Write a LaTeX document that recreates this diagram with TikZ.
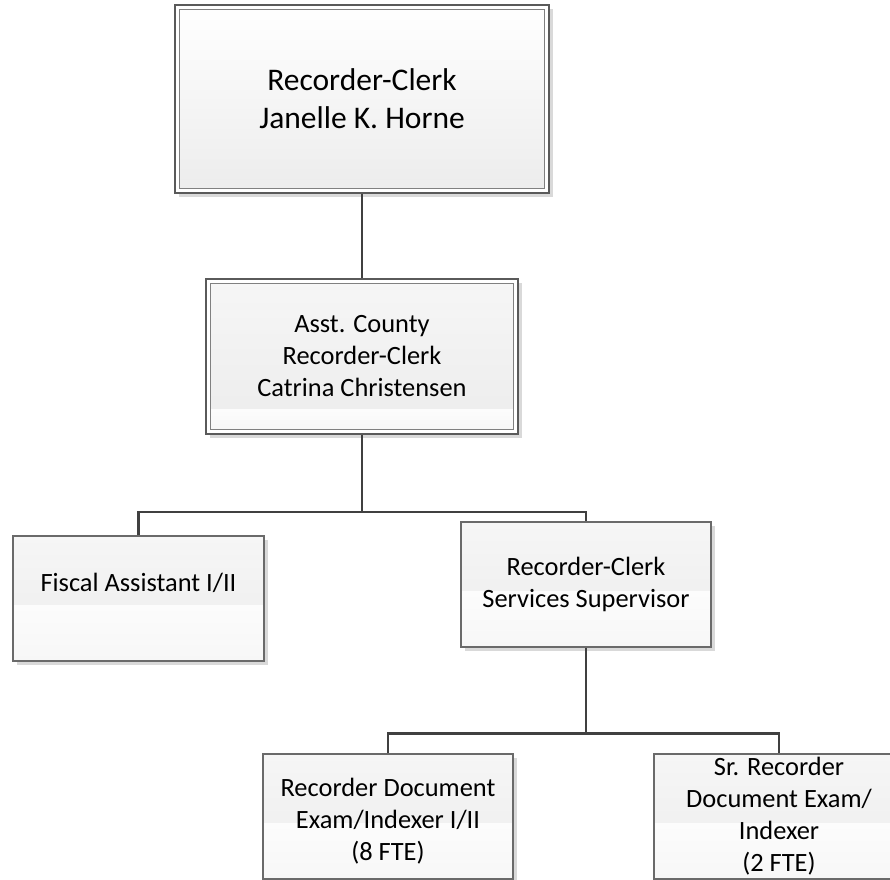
\documentclass[tikz,border=0pt]{standalone}
\usepackage{fontspec}
\setmainfont{Carlito}
\usetikzlibrary{calc,shadows}
\definecolor{boxline}{HTML}{6A6A6A}
\definecolor{outerline}{HTML}{5A5A5A}
\definecolor{innerline}{HTML}{808080}
\definecolor{connline}{HTML}{404040}
\definecolor{shadowc}{HTML}{D9D9D9}
\definecolor{gtop}{HTML}{F6F6F6}
\definecolor{gmid}{HTML}{ECECEC}
\definecolor{wtop}{HTML}{FCFCFC}
\definecolor{wbot}{HTML}{F7F7F7}
\tikzset{
  boxshadow/.style={general shadow={fill=shadowc, shadow xshift=4pt, shadow yshift=-4pt}},
  orgbox/.style={draw=boxline, line width=1.3pt, minimum width=250pt, minimum height=125pt,
    inner sep=0pt, align=center, font=\fontsize{26.4}{32}\selectfont, text=black, boxshadow,
    path picture={
      \shade[top color=gtop, bottom color=gmid]
        (path picture bounding box.north west) rectangle
        ($(path picture bounding box.north east)!0.555!(path picture bounding box.south east)$);
      \shade[top color=wtop, bottom color=wbot]
        ($(path picture bounding box.north west)!0.555!(path picture bounding box.south west)$) rectangle
        (path picture bounding box.south east);
    }},
  orgtext/.style={inner sep=0pt, align=center, font=\fontsize{26.4}{32}\selectfont, text=black},
  headbox/.style={draw=outerline, line width=1.3pt, fill=white, inner sep=0pt, align=center,
    text=black, boxshadow,
    path picture={
      \shade[top color=white, bottom color=gmid]
        ([shift={(4.5pt,-4.5pt)}]path picture bounding box.north west) rectangle
        ([shift={(-4.5pt,4.5pt)}]path picture bounding box.south east);
      \draw[innerline, line width=1.2pt]
        ([shift={(4.5pt,-4.5pt)}]path picture bounding box.north west) rectangle
        ([shift={(-4.5pt,4.5pt)}]path picture bounding box.south east);
    }},
  midbox/.style={draw=outerline, line width=1.3pt, fill=white, inner sep=0pt, align=center,
    text=black, boxshadow,
    path picture={
      \shade[top color=gtop, bottom color=gmid]
        ([shift={(4.5pt,-4.5pt)}]path picture bounding box.north west) rectangle
        ([shift={(-4.5pt,0pt)}]$(path picture bounding box.north east)!0.845!(path picture bounding box.south east)$);
      \shade[top color=wtop, bottom color=wbot]
        ([shift={(4.5pt,0pt)}]$(path picture bounding box.north west)!0.845!(path picture bounding box.south west)$) rectangle
        ([shift={(-4.5pt,4.5pt)}]path picture bounding box.south east);
      \draw[innerline, line width=1.2pt]
        ([shift={(4.5pt,-4.5pt)}]path picture bounding box.north west) rectangle
        ([shift={(-4.5pt,4.5pt)}]path picture bounding box.south east);
    }},
  conn/.style={draw=connline, line width=2.6pt}
}
\begin{document}
\begin{tikzpicture}[x=1pt,y=1pt]
\useasboundingbox (0,0) rectangle (890,-879);
\clip (0,0) rectangle (890,-879);
\fill[white] (0,0) rectangle (890,-879);

\node[headbox, minimum width=374pt, minimum height=188pt,
      font=\fontsize{31.5}{38}\selectfont] (top) at (362,-99) {Recorder-Clerk\\Janelle K. Horne};
\node[midbox, minimum width=312pt, minimum height=155pt,
      font=\fontsize{26.4}{32}\selectfont] (mid) at (362,-356.5) {Asst. County\\Recorder-Clerk\\Catrina Christensen};

\node[orgbox, minimum width=251pt] (fiscal) at (138.5,-598.5) {};
\node[orgtext] (fiscaltext) at ([yshift=15.5pt]fiscal.center) {Fiscal Assistant I/II};
\node[orgbox] (sup) at (586,-584.5) {Recorder-Clerk\\Services Supervisor};

\node[orgbox] (bl) at (388,-816.5) {};
\node[orgtext] (bltext) at ([yshift=-4.5pt]bl.center) {Recorder Document\\Exam/Indexer I/II\\(8 FTE)};
\node[orgbox] (br) at (779,-816.5) {Sr. Recorder\\Document Exam/\\Indexer\\(2 FTE)};

\coordinate (j1) at (362,-512);
\coordinate (j2) at (586,-733.5);

\draw[conn] (top.south) -- (mid.north);
\draw[conn] (mid.south) -- (j1);
\draw[conn] (fiscal.north) |- (j1) -| (sup.north);
\draw[conn] (sup.south) -- (j2);
\draw[conn] (bl.north) |- (j2) -| (br.north);
\end{tikzpicture}
\end{document}
